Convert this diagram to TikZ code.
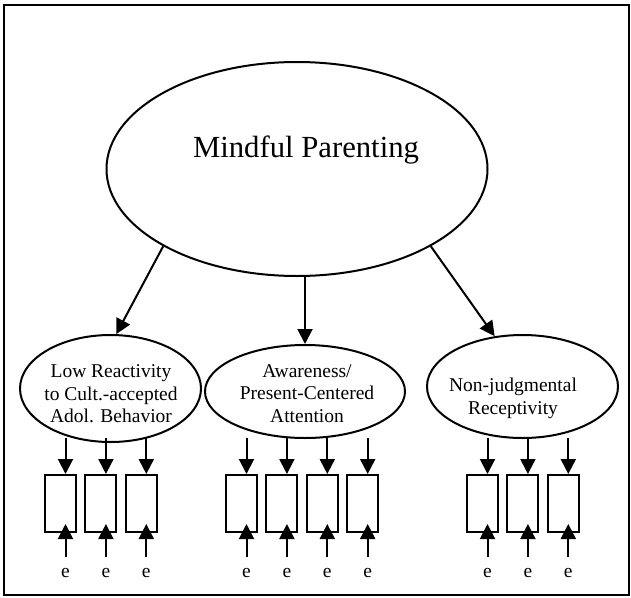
\documentclass[tikz,border=0pt]{standalone}
\usepackage{fontspec}
\setmainfont{Liberation Serif}
\usetikzlibrary{arrows.meta,shapes.geometric}
\begin{document}
\begin{tikzpicture}[x=1pt,y=-1pt,
  line width=2pt,
  lat/.style={draw,ellipse,inner sep=0pt},
  lbl/.style={inner sep=0pt,align=center,font=\fontsize{19.5}{22.5}\selectfont},
  ind/.style={draw,rectangle,minimum width=31pt,minimum height=57pt,inner sep=0pt},
  arr/.style={-{Triangle[length=15pt,width=15pt]}},
  err/.style={inner sep=0pt,font=\fontsize{19.5}{22.5}\selectfont}
]
\useasboundingbox (0,0) rectangle (631,597);
\draw (4,4.5) rectangle (628.5,594.5);

\node[lat,minimum width=381pt,minimum height=214pt] (mp) at (297,169) {};
\node[anchor=base,inner sep=0pt,font=\fontsize{30.7}{36}\selectfont] (mpt) at (306,157) {Mindful Parenting};

\node[lat,minimum width=181pt,minimum height=107pt] (low) at (110.5,388.5) {};
\node[lbl] (lowt) at (111,394) {Low Reactivity\\to Cult.-accepted\\Adol. Behavior};
\node[lat,minimum width=200pt,minimum height=93pt] (aw) at (305,391.5) {};
\node[lbl] (awt) at (307,393.3) {Awareness/\\Present-Centered\\Attention};
\node[lat,minimum width=191pt,minimum height=103pt] (nj) at (522.5,386.5) {};
\node[lbl] (njt) at (513,398.4) {Non-judgmental\\Receptivity};

\draw[arr] (mp.210) -- (low.84);
\draw[arr] (mp.south -| aw.north) -- (aw.north);
\draw[arr] (mp.330) -- (nj.119);

\foreach \n/\x in {a1/60.5,a2/100.9,a3/141.3,b1/241.5,b2/281.9,b3/322.3,b4/362.7,c1/482.5,c2/522.9,c3/563.3} {
  \node[ind] (\n) at (\x,503.5) {};
  \coordinate (t\n) at (\x+5,438);
  \draw[arr] (t\n) -- ([xshift=5pt]\n.north);
  \node[err,anchor=base] (e\n) at (\x+5,577) {e};
  \draw[arr] ([yshift=10pt]e\n.north) -- ([xshift=5pt,yshift=9pt]\n.south);
}
\end{tikzpicture}
\end{document}
